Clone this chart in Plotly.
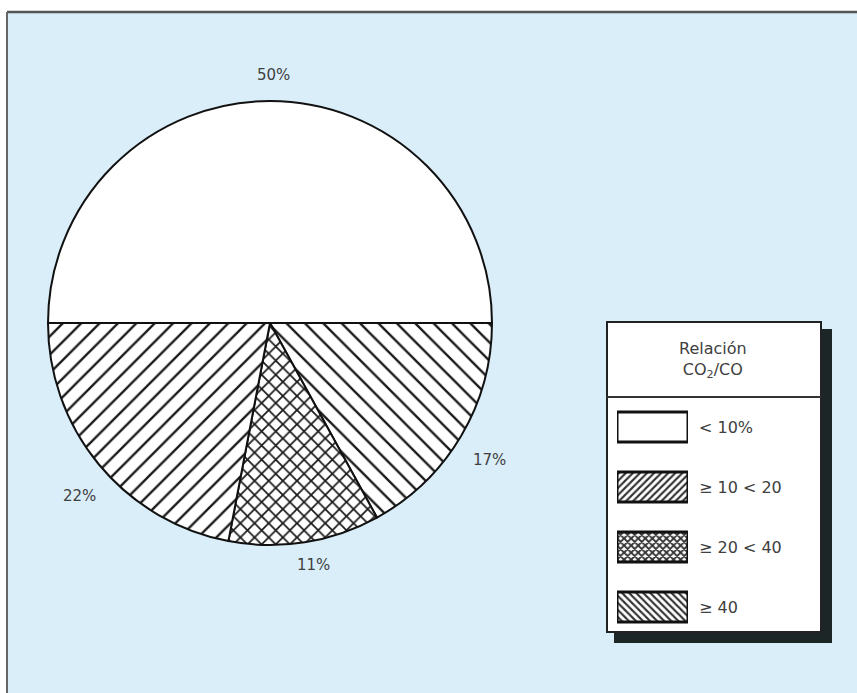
import plotly.graph_objects as go

W, H = 857, 693

# ---- data ----
slice_labels = ["< 10%", "≥ 10 < 20", "≥ 20 < 40", "≥ 40"]
slice_values = [50, 22, 11, 17]          # % of cases per CO2/CO ratio class
# clockwise order around the pie starting at 9 o'clock
pie_order = [0, 3, 2, 1]
legend_title = "Relación<br>CO<sub>2</sub>/CO"

patterns = {"< 10%": "", "≥ 10 < 20": "/", "≥ 20 < 40": "x", "≥ 40": "\\"}
pie_sizes = {"< 10%": 10, "≥ 10 < 20": 13, "≥ 20 < 40": 10, "≥ 40": 13}
pie_solidity = {"< 10%": 0.2, "≥ 10 < 20": 0.18, "≥ 20 < 40": 0.32, "≥ 40": 0.18}
swatch_solidity = {"< 10%": 0.2, "≥ 10 < 20": 0.42, "≥ 20 < 40": 0.6, "≥ 40": 0.42}
# where each percentage label sits (pixels)
label_pos = {"< 10%": (273, 75), "≥ 10 < 20": (79, 496),
             "≥ 20 < 40": (313, 565), "≥ 40": (489, 460)}

FONT = "DejaVu Sans, Liberation Sans, Arial"
TXT = "#404040"


def px(x):
    return x / W


def py(y):
    return 1 - y / H


fig = go.Figure()

ordered_labels = [slice_labels[i] for i in pie_order]
ordered_values = [slice_values[i] for i in pie_order]

fig.add_trace(go.Pie(
    labels=ordered_labels,
    values=ordered_values,
    sort=False,
    direction="clockwise",
    rotation=270,
    textinfo="none",
    marker=dict(
        colors=["white"] * 4,
        line=dict(color="#111111", width=2),
        pattern=dict(
            shape=[patterns[l] for l in ordered_labels],
            size=[pie_sizes[l] for l in ordered_labels],
            solidity=[pie_solidity[l] for l in ordered_labels],
            fgcolor="#1a1a1a",
            fgopacity=1,
            bgcolor="white",
            fillmode="overlay",
        ),
    ),
    domain=dict(x=[px(48), px(492)], y=[py(545), py(101)]),
    showlegend=False,
    hoverinfo="label+percent",
))

# legend swatches drawn as bars on their own small axes
fig.add_trace(go.Bar(
    y=slice_labels,
    x=[1] * len(slice_labels),
    orientation="h",
    width=0.5,
    marker=dict(
        color="white",
        line=dict(color="#111111", width=3),
        pattern=dict(
            shape=[patterns[l] for l in slice_labels],
            size=5,
            solidity=[swatch_solidity[l] for l in slice_labels],
            fgcolor="#333333",
            fgopacity=1,
            bgcolor="white",
            fillmode="overlay",
        ),
    ),
    xaxis="x", yaxis="y",
    showlegend=False,
    hoverinfo="y",
))

shapes = [
    # blue panel with frame
    dict(type="rect", xref="paper", yref="paper", layer="below",
         x0=px(8), x1=px(860), y0=py(700), y1=py(12),
         fillcolor="#daeef9", line=dict(width=0)),
    dict(type="line", xref="paper", yref="paper", layer="below",
         x0=px(7), x1=px(857), y0=py(12), y1=py(12),
         line=dict(color="#555555", width=2.5)),
    dict(type="line", xref="paper", yref="paper", layer="below",
         x0=px(7), x1=px(7), y0=py(12), y1=py(693),
         line=dict(color="#666666", width=2)),
    # legend shadow
    dict(type="rect", xref="paper", yref="paper", layer="below",
         x0=px(614), x1=px(832), y0=py(643), y1=py(329),
         fillcolor="#1c2626", line=dict(width=0)),
    # legend box
    dict(type="rect", xref="paper", yref="paper", layer="below",
         x0=px(607), x1=px(821), y0=py(632), y1=py(322),
         fillcolor="white", line=dict(color="#222222", width=2)),
    dict(type="line", xref="paper", yref="paper", layer="below",
         x0=px(607), x1=px(821), y0=py(397), y1=py(397),
         line=dict(color="#333333", width=2)),
]

annotations = [
    dict(text=legend_title, xref="paper", yref="paper",
         x=px(713), y=py(360), showarrow=False,
         xanchor="center", yanchor="middle",
         font=dict(family=FONT, size=16, color=TXT), align="center"),
]
for lab, val in zip(slice_labels, slice_values):
    lx, ly = label_pos[lab]
    annotations.append(dict(
        text=f"{val}%", xref="paper", yref="paper",
        x=px(lx), y=py(ly), showarrow=False,
        xanchor="center", yanchor="middle",
        font=dict(family=FONT, size=15, color=TXT)))

fig.update_layout(
    width=W, height=H,
    margin=dict(l=0, r=0, t=0, b=0),
    paper_bgcolor="white",
    plot_bgcolor="rgba(0,0,0,0)",
    shapes=shapes,
    xaxis=dict(domain=[px(617), px(688)], range=[0, 1], visible=False,
               fixedrange=True),
    yaxis=dict(domain=[py(637), py(397)], autorange="reversed",
               side="right", anchor="x", showline=False, showgrid=False,
               zeroline=False, ticks="", ticklabelstandoff=10,
               tickfont=dict(family=FONT, size=16, color=TXT),
               fixedrange=True),
    bargap=0.5,
    annotations=annotations,
)

fig.write_html("out.html")
